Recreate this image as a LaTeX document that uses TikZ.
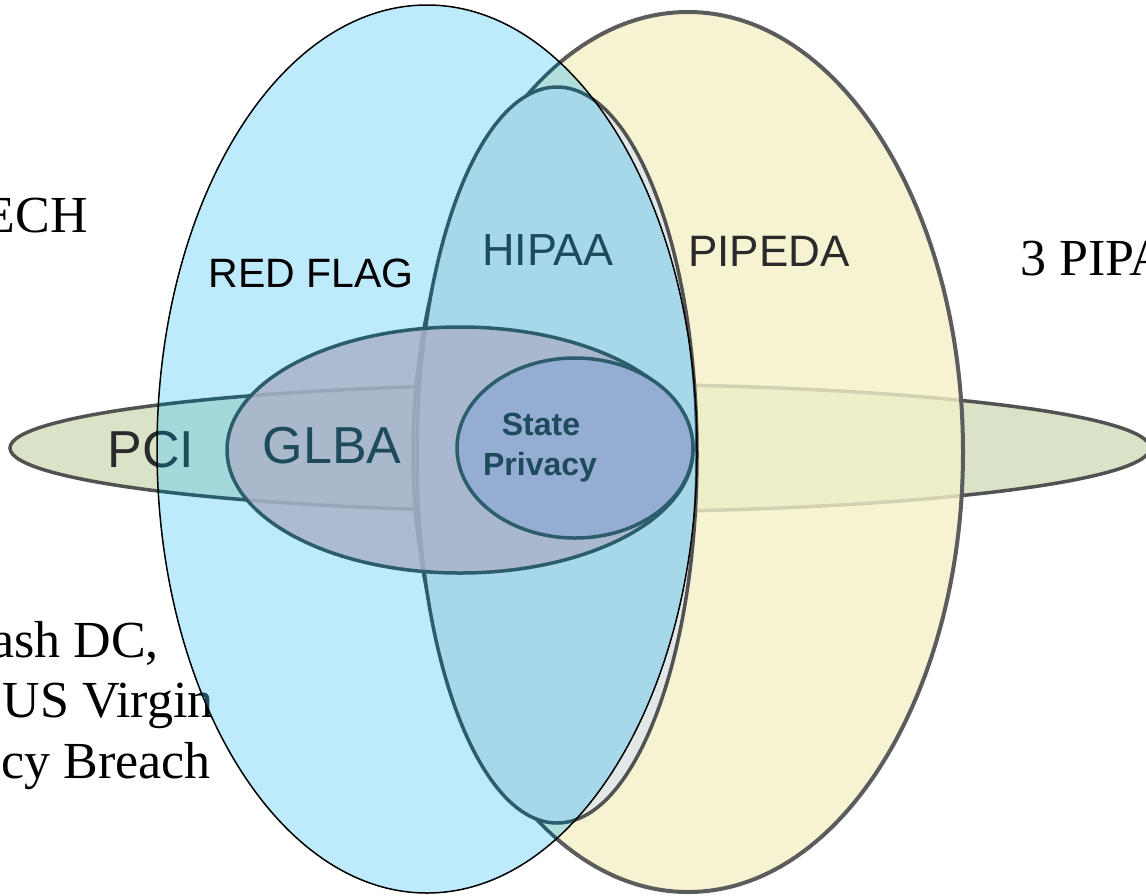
\documentclass[tikz,border=0pt]{standalone}
\usepackage{fontspec}
\setmainfont{Liberation Serif}
\newfontfamily\arialf{Liberation Sans}
\definecolor{pcifill}{RGB}{218,226,200}
\definecolor{yelfill}{RGB}{244,241,201}
\definecolor{hipfill}{RGB}{226,231,231}
\definecolor{lineg}{RGB}{82,82,82}
\definecolor{yelline}{RGB}{92,92,92}
\definecolor{bluefill}{RGB}{189,235,252}
\definecolor{pciin}{RGB}{163,217,219}
\definecolor{yelin}{RGB}{174,221,212}
\definecolor{hipin}{RGB}{166,216,233}
\definecolor{glbain}{RGB}{171,179,201}
\definecolor{spin}{RGB}{150,173,211}
\definecolor{tealline}{RGB}{44,93,108}
\definecolor{tealtext}{RGB}{30,75,92}
\definecolor{txtgray}{RGB}{42,42,42}
\begin{document}
\begin{tikzpicture}[x=1pt,y=-1pt,
  sanslab/.style={inner sep=0pt, anchor=base, font=\arialf\fontsize{#1}{#1}\selectfont},
  seriflab/.style={inner sep=0pt, font=\fontsize{52}{60}\selectfont},
  outl/.style={line width=3.5pt}]
\useasboundingbox (0,0) rectangle (1146,895);
\clip (0,0) rectangle (1146,895);
\fill[white] (0,0) rectangle (1146,895);
% ---------- original scene (outside the blue ellipse) ----------
\filldraw[fill=pcifill, draw=lineg, outl] (580,448) ellipse [x radius=570pt, y radius=64pt];
\fill[yelfill, fill opacity=0.8] (688,452) ellipse [x radius=275pt, y radius=440pt];
\draw[yelline, line width=4pt] (688,452) ellipse [x radius=275pt, y radius=440pt];
\filldraw[fill=hipfill, draw=lineg, outl] (557,455) ellipse [x radius=140pt, y radius=368pt];
\node[sanslab=44, text=txtgray, anchor=base west] (pipeda) at (688,266) {PIPEDA};
\node[sanslab=52, text=txtgray] (pciout) at (151,467) {PCI};
\node[seriflab, anchor=base east] (ech) at (88,232) {ECH};
\node[seriflab, anchor=base west] (pipa) at (1020,275) {3 PIPA};
\node[seriflab, anchor=base east] (dc) at (159,657) {ash DC,};
\node[seriflab, anchor=base east] (virgin) at (214,717) {US Virgin};
\node[seriflab, anchor=base east] (breach) at (211,778) {cy Breach};
% ---------- blue RED FLAG ellipse ----------
\fill[bluefill] (427,449) ellipse [x radius=270pt, y radius=444pt];
\begin{scope}
\clip (427,449) ellipse [x radius=270pt, y radius=444pt];
\filldraw[fill=pciin, draw=tealline, outl] (580,448) ellipse [x radius=570pt, y radius=64pt];
\fill[yelin, fill opacity=0.8] (688,452) ellipse [x radius=275pt, y radius=440pt];
\draw[tealline, outl] (688,452) ellipse [x radius=275pt, y radius=440pt];
\filldraw[fill=hipin, draw=tealline, outl] (557,455) ellipse [x radius=140pt, y radius=368pt];
\filldraw[fill=glbain, fill opacity=0.85, draw=tealline, outl] (460,450) ellipse [x radius=233pt, y radius=123pt];
\filldraw[fill=spin, draw=tealline, outl] (575,448) ellipse [x radius=118pt, y radius=90pt];
\node[sanslab=52, text=tealtext] (pciin) at (151,467) {PCI};
\node[sanslab=45, text=tealtext] (hipaa) at (548,265) {HIPAA};
\node[sanslab=52, text=tealtext] (glba) at (332,463) {GLBA};
\node[sanslab=32, text=tealtext, font=\arialf\bfseries\fontsize{32}{32}\selectfont] (state) at (541,435) {State};
\node[sanslab=32, text=tealtext, font=\arialf\bfseries\fontsize{32}{32}\selectfont] (privacy) at (540,475) {Privacy};
\node[seriflab, anchor=base east, text=tealtext] (virginin) at (214,717) {US Virgin};
\end{scope}
\draw[black, line width=1.5pt] (427,449) ellipse [x radius=270pt, y radius=444pt];
\node[sanslab=41, text=black] (redflag) at (311,287) {RED FLAG};
\end{tikzpicture}
\end{document}
